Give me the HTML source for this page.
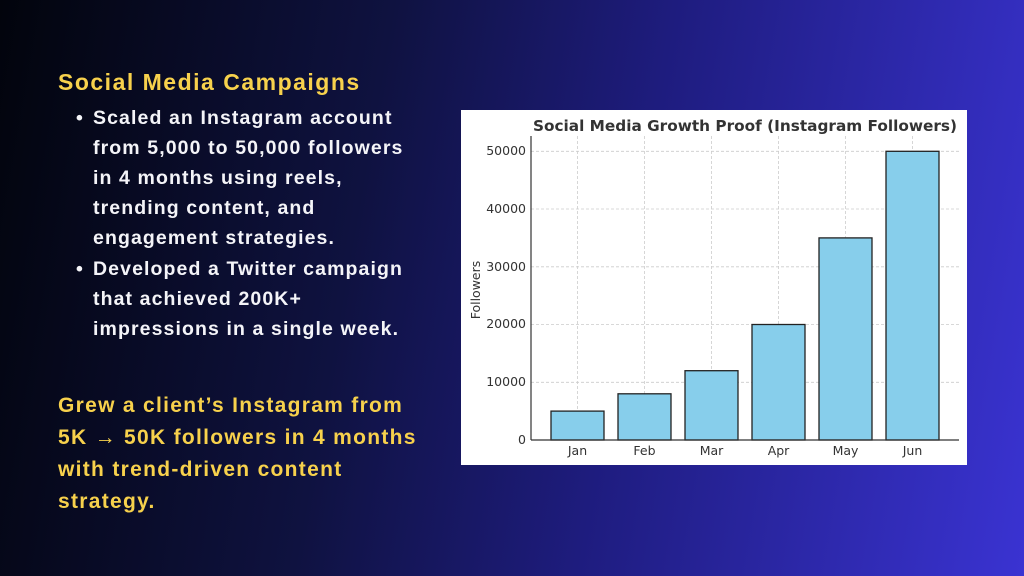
<!DOCTYPE html>
<html><head><meta charset="utf-8"><style>
html,body{margin:0;padding:0}
body{width:1024px;height:576px;overflow:hidden;position:relative;
background:linear-gradient(100deg,#02040c 0%,#0f1240 35%,#1e1c7e 60%,#3a33d2 100%);
font-family:"Liberation Sans",sans-serif;font-weight:bold}
.h{position:absolute;left:58px;top:69px;font-size:23px;color:#f7d14c;letter-spacing:1.5px}
.b{position:absolute;left:93px;font-size:19.5px;color:#f4f4f8;line-height:30px;width:360px;letter-spacing:1.1px}
.dot{position:absolute;left:-17px;top:0}
.y{position:absolute;left:58px;top:390px;font-size:21px;line-height:32px;color:#f7d14c;width:400px;letter-spacing:1.3px}
</style></head><body>
<div class="h">Social Media Campaigns</div>
<div class="b" style="top:103px"><span class="dot">•</span>Scaled an Instagram account<br>from 5,000 to 50,000 followers<br>in 4 months using reels,<br>trending content, and<br>engagement strategies.</div>
<div class="b" style="top:254px"><span class="dot">•</span>Developed a Twitter campaign<br>that achieved 200K+<br>impressions in a single week.</div>
<div class="y">Grew a client’s Instagram from<br>5K → 50K followers in 4 months<br>with trend-driven content<br>strategy.</div>
<svg style="position:absolute;left:461px;top:110px" width="506" height="355" viewBox="461 110 506 355">
<rect x="461" y="110" width="506" height="355" fill="#fff"/>
<g stroke="#ccc" stroke-width="0.8" stroke-dasharray="3,2">
<line x1="531" x2="959" y1="151.3" y2="151.3"/><line x1="531" x2="959" y1="209" y2="209"/>
<line x1="531" x2="959" y1="266.8" y2="266.8"/><line x1="531" x2="959" y1="324.5" y2="324.5"/>
<line x1="531" x2="959" y1="382.3" y2="382.3"/>
<line x1="577.5" x2="577.5" y1="136" y2="440"/><line x1="644.5" x2="644.5" y1="136" y2="440"/>
<line x1="711.5" x2="711.5" y1="136" y2="440"/><line x1="778.5" x2="778.5" y1="136" y2="440"/>
<line x1="845.5" x2="845.5" y1="136" y2="440"/><line x1="912.5" x2="912.5" y1="136" y2="440"/>
</g>
<g fill="#87ceeb" stroke="#222" stroke-width="1.3">
<rect x="551" y="411.1" width="53" height="28.9"/>
<rect x="618" y="393.8" width="53" height="46.2"/>
<rect x="685" y="370.7" width="53" height="69.3"/>
<rect x="752" y="324.5" width="53" height="115.5"/>
<rect x="819" y="237.9" width="53" height="202.1"/>
<rect x="886" y="151.3" width="53" height="288.7"/>
</g>
<g stroke="#333" stroke-width="1.2"><line x1="531" x2="531" y1="136" y2="440"/><line x1="531" x2="959" y1="440" y2="440"/></g>
<g font-family="DejaVu Sans,sans-serif" font-size="12.5" fill="#333" font-weight="normal" text-anchor="end">
<text x="526" y="155">50000</text><text x="526" y="213">40000</text><text x="526" y="271">30000</text>
<text x="526" y="328">20000</text><text x="526" y="386">10000</text><text x="526" y="444">0</text>
</g>
<g font-family="DejaVu Sans,sans-serif" font-size="12.5" fill="#333" font-weight="normal" text-anchor="middle">
<text x="577.5" y="455">Jan</text><text x="644.5" y="455">Feb</text><text x="711.5" y="455">Mar</text>
<text x="778.5" y="455">Apr</text><text x="845.5" y="455">May</text><text x="912.5" y="455">Jun</text>
<text transform="translate(480,290) rotate(-90)" font-size="12.5">Followers</text>
<text x="745" y="131" font-size="15.3" font-weight="bold">Social Media Growth Proof (Instagram Followers)</text>
</g>
</svg>
</body></html>
